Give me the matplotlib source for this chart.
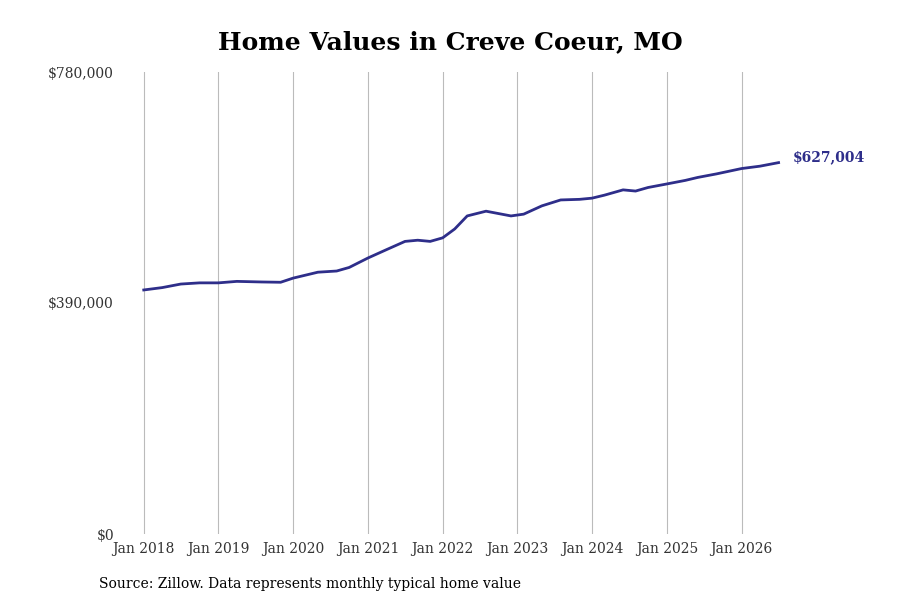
import numpy as np
import pandas as pd
import matplotlib
matplotlib.use("Agg")
import matplotlib.pyplot as plt
import matplotlib.dates as mdates

plt.rcParams['font.family'] = ['DejaVu Serif']

dates = pd.to_datetime([
    "2018-01", "2018-04", "2018-07", "2018-10", "2019-01", "2019-04", "2019-08", "2019-11",
    "2020-01", "2020-05", "2020-08", "2020-10", "2021-01", "2021-04", "2021-07", "2021-09",
    "2021-11", "2022-01", "2022-03", "2022-05", "2022-08", "2022-10", "2022-12", "2023-02",
    "2023-05", "2023-08", "2023-11", "2024-01", "2024-03", "2024-06", "2024-08", "2024-10",
    "2025-01", "2025-04", "2025-06", "2025-09", "2026-01", "2026-04", "2026-07"])
values = [412000, 416000, 422000, 424000, 424000, 426500, 425500, 425000,
          432000, 442000, 444000, 450000, 466000, 480000, 494000, 496000,
          494000, 500000, 515000, 537000, 545000, 541000, 537000, 540000,
          554000, 564000, 565000, 567000, 572000, 581000, 579000, 585000,
          591000, 597000, 602000, 608000, 617000, 621000, 627004]

fig, ax = plt.subplots(figsize=(9, 6), dpi=100)
fig.subplots_adjust(left=0.132, right=0.886, top=0.88, bottom=0.11)
ax.plot(dates, values, color="#2e2e8a", linewidth=2)
ax.set_ylim(0, 780000)
ax.set_xlim(pd.Timestamp("2017-09-01"), pd.Timestamp("2026-10-01"))
ax.set_yticks([0, 390000, 780000])
ax.set_yticklabels(["$0", "$390,000", "$780,000"])
ax.xaxis.set_major_locator(mdates.YearLocator())
ax.xaxis.set_major_formatter(mdates.DateFormatter("Jan %Y"))
ax.grid(axis="x", color="#bbbbbb", linewidth=0.8)
for s in ax.spines.values():
    s.set_visible(False)
ax.tick_params(length=0, labelsize=10, colors="#333333")
ax.tick_params(axis="x", pad=6)
ax.annotate("$627,004", (dates[-1], values[-1]), xytext=(10, 4), textcoords="offset points",
            color="#2e2e8a", fontweight="bold", fontsize=10, va="center", annotation_clip=False)
fig.suptitle("Home Values in Creve Coeur, MO", fontsize=18, fontweight="bold", y=0.95)
fig.text(0.11, 0.02, "Source: Zillow. Data represents monthly typical home value", fontsize=10)
fig.savefig("out.png")
